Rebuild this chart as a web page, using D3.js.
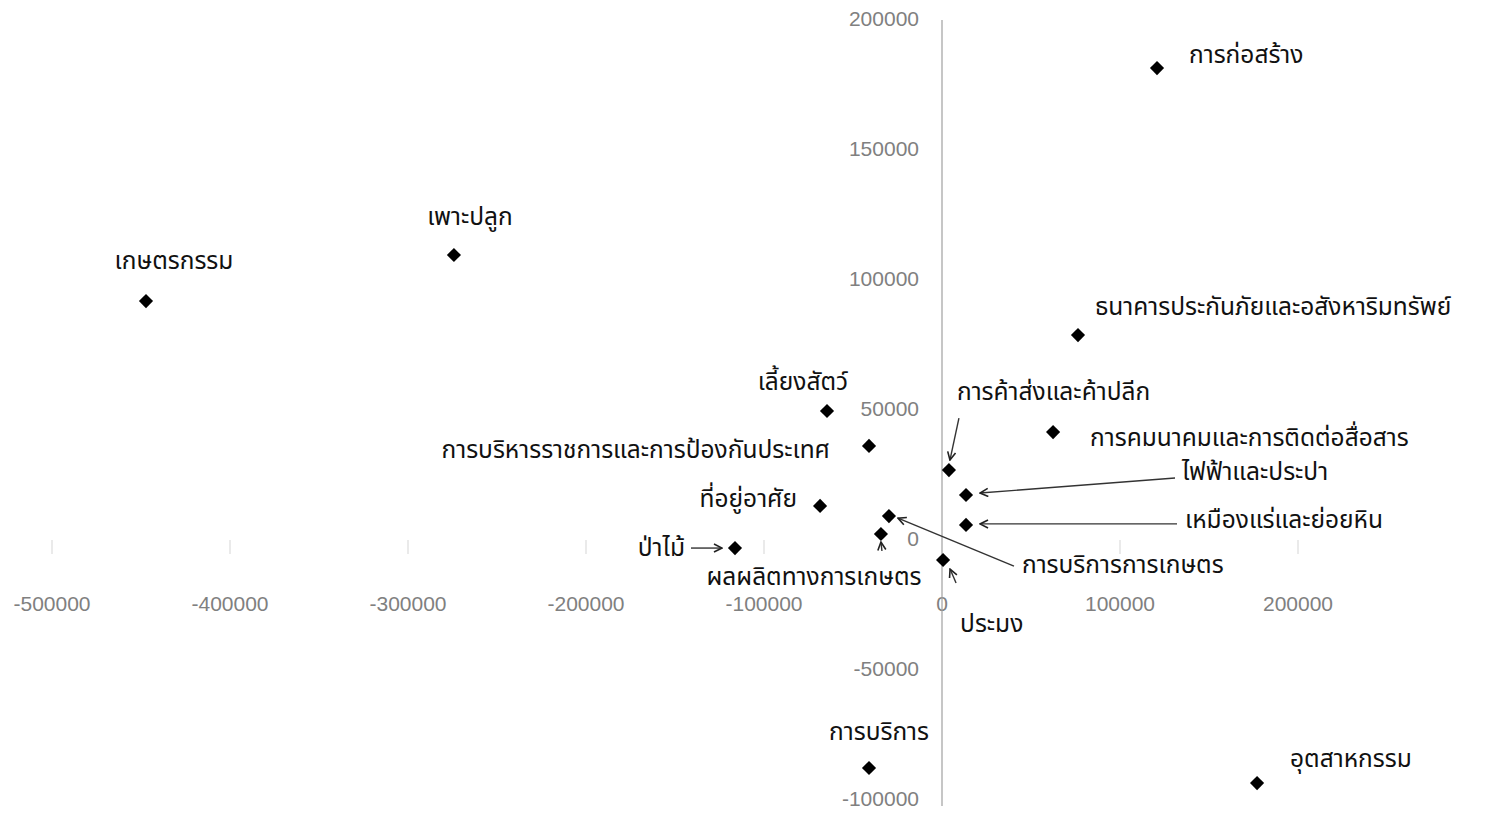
<!DOCTYPE html>
<html>
<head>
<meta charset="utf-8">
<script src="https://cdn.jsdelivr.net/npm/d3@7"></script>
<style>
  html, body { margin: 0; padding: 0; background: #fff; }
  svg { display: block; }
  .tick-label { font-family: "Liberation Sans", Arial, sans-serif; font-size: 21px; fill: #808080; }
  .pt-label { font-family: "Noto Sans Thai", "Noto Sans", "DejaVu Sans", sans-serif; font-size: 24.5px; fill: #111; }
</style>
</head>
<body>
<script>
// ---- data ----
const sectors = [
  "การก่อสร้าง", "เพาะปลูก", "เกษตรกรรม", "ธนาคารประกันภัยและอสังหาริมทรัพย์",
  "เลี้ยงสัตว์", "การคมนาคมและการติดต่อสื่อสาร", "การบริหารราชการและการป้องกันประเทศ",
  "การค้าส่งและค้าปลีก", "ไฟฟ้าและประปา", "ที่อยู่อาศัย", "การบริการการเกษตร",
  "เหมืองแร่และย่อยหิน", "ผลผลิตทางการเกษตร", "ป่าไม้", "ประมง", "การบริการ", "อุตสาหกรรม"
];
const xValues = [120800, -274200, -447200, 76400, -64600, 62400, -41000, 3900, 13500, -68500, -29800, 13500, -34300, -116300, 600, -41000, 177000];
const yValues = [181500, 109600, 91900, 78800, 49600, 41500, 36200, 26900, 17300, 13100, 9200, 5800, 2300, -3100, -7700, -87700, -93500];
const xTicks = [-500000, -400000, -300000, -200000, -100000, 0, 100000, 200000];
const yTicks = [200000, 150000, 100000, 50000, 0, -50000, -100000];

// ---- label layout (pixel offsets from each marker) ----
const labelLayout = {
  "การก่อสร้าง": {dx: 32, dy: -12, anchor: "start"},
  "เพาะปลูก": {dx: 16, dy: -37, anchor: "middle"},
  "เกษตรกรรม": {dx: 28, dy: -39, anchor: "middle"},
  "ธนาคารประกันภัยและอสังหาริมทรัพย์": {dx: 17, dy: -27, anchor: "start"},
  "เลี้ยงสัตว์": {dx: -24, dy: -28, anchor: "middle"},
  "การคมนาคมและการติดต่อสื่อสาร": {dx: 37, dy: 7, anchor: "start"},
  "การบริหารราชการและการป้องกันประเทศ": {dx: -39, dy: 5, anchor: "end"},
  "การค้าส่งและค้าปลีก": {dx: 8, dy: -77, anchor: "start", arrow: [10, -52, 1, -10]},
  "ไฟฟ้าและประปา": {dx: 216, dy: -22, anchor: "start", arrow: [209, -17, 14, -2]},
  "ที่อยู่อาศัย": {dx: -23, dy: -6, anchor: "end"},
  "การบริการการเกษตร": {dx: 133, dy: 50, anchor: "start", arrow: [125, 50, 9, 2]},
  "เหมืองแร่และย่อยหิน": {dx: 219, dy: -4, anchor: "start", arrow: [211, -1, 14, -1]},
  "ผลผลิตทางการเกษตร": {dx: -67, dy: 44, anchor: "middle", arrow: [1, 17, 0, 8]},
  "ป่าไม้": {dx: -50, dy: 1, anchor: "end", arrow: [-44, 0, -13, 0]},
  "ประมง": {dx: 17, dy: 65, anchor: "start", arrow: [13, 23, 7, 9]},
  "การบริการ": {dx: 10, dy: -35, anchor: "middle"},
  "อุตสาหกรรม": {dx: 33, dy: -23, anchor: "start"}
};

const W = 1485, H = 818;
const x = d3.scaleLinear().domain([-500000, 200000]).range([52, 1298]);
const y = d3.scaleLinear().domain([-100000, 200000]).range([800, 20]);

const svg = d3.select("body").append("svg").attr("width", W).attr("height", H);

const defs = svg.append("defs");
defs.append("marker").attr("id", "arr").attr("viewBox", "0 0 10 10")
  .attr("refX", 9).attr("refY", 5).attr("markerWidth", 10).attr("markerHeight", 10)
  .attr("markerUnits", "userSpaceOnUse").attr("orient", "auto")
  .append("path").attr("d", "M1,1 L9,5 L1,9").attr("fill", "none")
  .attr("stroke", "#222").attr("stroke-width", 1.6);

const fmt = d => String(d);

// x axis (faint ticks, no line), labels far below
const x0 = x(0), y0 = y(0);
const xAxis = svg.append("g").attr("transform", `translate(0,${y0})`);
xAxis.selectAll("line.xt").data(xTicks.filter(d => d !== 0)).join("line")
  .attr("x1", d => x(d)).attr("x2", d => x(d)).attr("y1", 0).attr("y2", 14)
  .attr("stroke", "#dcdcdc").attr("stroke-width", 1.2);
xAxis.selectAll("text").data(xTicks).join("text").attr("class", "tick-label")
  .attr("x", d => x(d)).attr("y", 65).attr("text-anchor", "middle")
  .attr("dominant-baseline", "middle").text(fmt);

// y axis line and labels
svg.append("line").attr("x1", x0).attr("x2", x0).attr("y1", y(200000)).attr("y2", y(-100000) + 6)
  .attr("stroke", "#a0a0a0").attr("stroke-width", 1.2);
svg.selectAll("text.ylab").data(yTicks).join("text").attr("class", "tick-label ylab")
  .attr("x", x0 - 23).attr("y", d => y(d)).attr("text-anchor", "end")
  .attr("dominant-baseline", "middle").text(fmt);

const pts = sectors.map((s, i) => ({name: s, xv: xValues[i], yv: yValues[i]}));

// arrows
svg.selectAll("line.arrow").data(pts.filter(p => labelLayout[p.name].arrow)).join("line")
  .attr("class", "arrow")
  .attr("x1", p => x(p.xv) + labelLayout[p.name].arrow[0])
  .attr("y1", p => y(p.yv) + labelLayout[p.name].arrow[1])
  .attr("x2", p => x(p.xv) + labelLayout[p.name].arrow[2])
  .attr("y2", p => y(p.yv) + labelLayout[p.name].arrow[3])
  .attr("stroke", "#333").attr("stroke-width", 1.4).attr("marker-end", "url(#arr)");

// markers
const sym = d3.symbol().type(d3.symbolSquare).size(100);
svg.selectAll("path.pt").data(pts).join("path").attr("class", "pt")
  .attr("d", sym)
  .attr("transform", p => `translate(${x(p.xv)},${y(p.yv)}) rotate(45)`)
  .attr("fill", "#000");

// labels
svg.selectAll("text.pt-label").data(pts).join("text").attr("class", "pt-label")
  .attr("x", p => x(p.xv) + labelLayout[p.name].dx)
  .attr("y", p => y(p.yv) + labelLayout[p.name].dy)
  .attr("text-anchor", p => labelLayout[p.name].anchor)
  .attr("dominant-baseline", "middle")
  .text(p => p.name);
</script>
</body>
</html>
